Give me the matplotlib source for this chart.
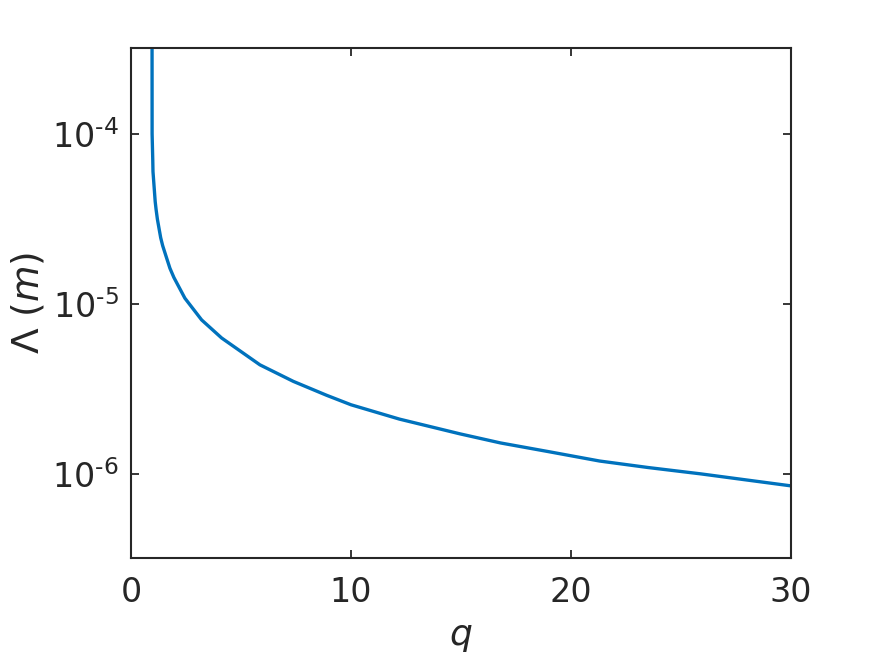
import matplotlib
matplotlib.use('Agg')
import matplotlib.pyplot as plt
import matplotlib.ticker as mticker
import numpy as np

plt.rcParams['axes.unicode_minus'] = False

# values
q = [0.955, 0.96, 0.99, 1.0, 1.05, 1.10, 1.14, 1.20, 1.27, 1.35, 1.44, 1.62,
     1.77, 1.95, 2.45, 3.21, 4.12, 5.86, 7.38, 8.89, 10.0, 12.2, 14.95, 16.8,
     19.0, 21.3, 23.5, 25.9, 28.0, 30.0]
lam = [1e-3, 1.0e-4, 7.0e-5, 6.0e-5, 4.9e-5, 4.0e-5, 3.6e-5, 3.15e-5, 2.8e-5,
       2.45e-5, 2.2e-5, 1.86e-5, 1.62e-5, 1.43e-5, 1.08e-5, 8.05e-6, 6.3e-6,
       4.38e-6, 3.5e-6, 2.9e-6, 2.55e-6, 2.1e-6, 1.72e-6, 1.52e-6, 1.35e-6,
       1.19e-6, 1.09e-6, 1.0e-6, 9.2e-7, 8.5e-7]
yticks = [1e-6, 1e-5, 1e-4]
ytick_labels = ['$10^{\\text{-}6}$', '$10^{\\text{-}5}$', '$10^{\\text{-}4}$']
xticks = [0, 10, 20, 30]

fig = plt.figure(figsize=(8.75, 6.56), dpi=100)
ax = fig.add_axes([0.1497, 0.1494, 0.7543, 0.7774])

ax.semilogy(q, lam, color='#0072BD', lw=2.4)

ax.set_xlim(0, 30)
ax.set_ylim(3.2e-7, 3.2e-4)
ax.set_xticks(xticks)
ax.set_yticks(yticks)
ax.set_yticklabels(ytick_labels)
ax.yaxis.set_minor_locator(mticker.NullLocator())

dark = '#262626'
for s in ax.spines.values():
    s.set_linewidth(1.5)
    s.set_color(dark)
ax.tick_params(which='both', direction='in', top=True, right=True,
               length=6, width=1.3, color=dark, labelcolor=dark, labelsize=24)
ax.tick_params(axis='x', pad=13)
ax.tick_params(axis='y', pad=9)

ax.set_xlabel('$\\it{q}$', fontsize=26, color=dark, labelpad=8)
ax.set_ylabel('$\\mathit{\\Lambda}$ $\\it{(m)}$', fontsize=27, color=dark, labelpad=4)

fig.savefig('out.png', dpi=100, facecolor='white')
